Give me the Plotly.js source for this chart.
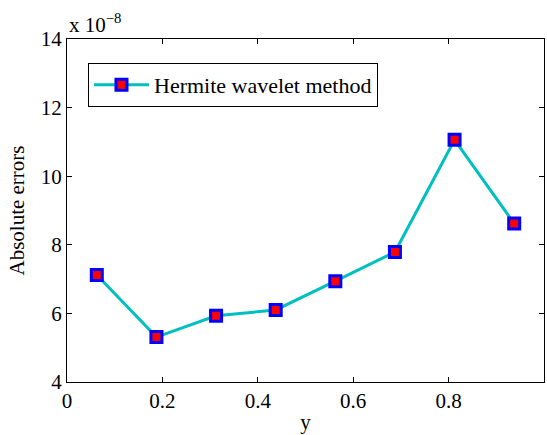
<!DOCTYPE html>
<html>
<head>
<meta charset="utf-8">
<script src="https://cdn.plot.ly/plotly-3.0.1.min.js"></script>
<style>html,body{margin:0;padding:0;background:#fff;}#chart{width:547px;height:435px;}</style>
</head>
<body>
<div id="chart"></div>
<script>
var yPoints = [0.0625, 0.1875, 0.3125, 0.4375, 0.5625, 0.6875, 0.8125, 0.9375];
var absErrors = [7.12, 5.31, 5.93, 6.10, 6.94, 7.79, 11.06, 8.62];
var seriesName = 'Hermite wavelet method';
var xTicks = [0, 0.2, 0.4, 0.6, 0.8, 1];
var xTickText = ['0', '0.2', '0.4', '0.6', '0.8', '1'];
var yTicks = [4, 6, 8, 10, 12, 14];

var font = {family: 'Liberation Serif, Times New Roman, serif', size: 21, color: '#000'};
var legendFont = {family: 'Liberation Serif, Times New Roman, serif', size: 22, color: '#000'};

var trace = {
  x: yPoints, y: absErrors, name: seriesName,
  type: 'scatter', mode: 'lines+markers',
  line: {color: '#00BFBF', width: 3},
  marker: {symbol: 'square', size: 11, color: '#FF0000', line: {color: '#0000FF', width: 3}}
};

var layout = {
  width: 547, height: 435,
  margin: {l: 67, r: 3, t: 39, b: 53},
  paper_bgcolor: '#fff', plot_bgcolor: '#fff',
  font: font,
  showlegend: true,
  legend: {x: 0.044, y: 0.93, xanchor: 'left', yanchor: 'top', itemwidth: 55,
           bordercolor: '#000', borderwidth: 1, bgcolor: '#fff', font: legendFont},
  xaxis: {range: [0, 1], tickvals: xTicks, ticktext: xTickText,
          ticks: 'inside', ticklen: 5, tickcolor: '#000', mirror: 'ticks',
          showline: true, linecolor: '#000', linewidth: 1, showgrid: false, zeroline: false,
          tickfont: font, title: {text: 'y', font: font, standoff: 2}},
  yaxis: {range: [4, 14], tickvals: yTicks,
          ticks: 'inside', ticklen: 5, tickcolor: '#000', mirror: 'ticks',
          showline: true, linecolor: '#000', linewidth: 1, showgrid: false, zeroline: false,
          tickfont: font, title: {text: 'Absolute errors', font: font, standoff: 10}},
  annotations: [{xref: 'paper', yref: 'paper', x: 0, y: 1, xanchor: 'left', yanchor: 'bottom',
                 yshift: 0, showarrow: false, text: 'x 10<sup>\u22128</sup>', font: font}]
};

Plotly.newPlot('chart', [trace], layout, {displayModeBar: false, staticPlot: true});
</script>
</body>
</html>
